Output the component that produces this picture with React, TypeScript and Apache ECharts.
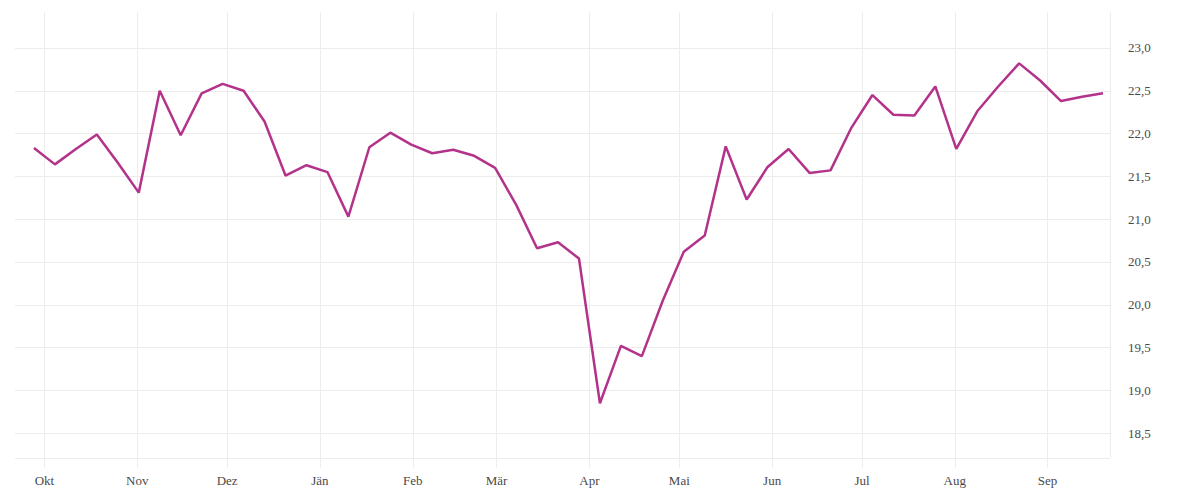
import React, { useRef, useEffect } from "react";
import * as echarts from "echarts";

// weekly readings, first week starts 27 Sep 2020
const weekStart = Date.UTC(2020, 8, 27, 12);
const weekValues = [
  21.83, 21.64, 21.82, 21.99, 21.66, 21.31, 22.5, 21.98, 22.47, 22.58,
  22.5, 22.14, 21.51, 21.63, 21.55, 21.03, 21.84, 22.01, 21.87, 21.77,
  21.81, 21.74, 21.6, 21.17, 20.66, 20.73, 20.54, 18.85, 19.52, 19.4,
  20.05, 20.62, 20.81, 21.85, 21.23, 21.61, 21.82, 21.54, 21.57, 22.07,
  22.45, 22.22, 22.21, 22.55, 21.82, 22.26, 22.55, 22.82, 22.62, 22.38,
  22.43, 22.47,
];
const monthNames = ["Jän", "Feb", "Mär", "Apr", "Mai", "Jun", "Jul", "Aug", "Sep", "Okt", "Nov", "Dez"];
const xMin = Date.UTC(2020, 8, 21, 4);
const xMax = Date.UTC(2021, 8, 21, 20);
const yMin = 18.21;
const yMax = 23.42;

const DAY = 86400000;
const seriesData = weekValues.map((v, i) => [weekStart + i * 7 * DAY, v]);

const gridColor = "#ececec";
const textColor = "#4a4a4a";
const font = "'Liberation Serif', serif";

const App = function () {
  const chart = useRef(null);
  useEffect(() => {
    document.body.style.margin = "0";
    if (!chart.current) return;
    let myChart = echarts.init(chart.current as any, undefined, { renderer: "svg" });
    let option = {
      animation: false,
      useUTC: true,
      backgroundColor: "#fff",
      grid: {
        left: 15,
        right: 90,
        top: 12,
        bottom: 42,
        containLabel: false,
      },
      xAxis: {
        type: "time",
        min: xMin,
        max: xMax,
        splitNumber: 12,
        axisLine: { show: false },
        axisTick: {
          show: true,
          length: 10,
          lineStyle: { color: gridColor, width: 1 },
        },
        splitLine: {
          show: true,
          showMinLine: false,
          lineStyle: { color: gridColor, width: 1 },
        },
        axisLabel: {
          color: textColor,
          fontFamily: font,
          fontSize: 13,
          margin: 16,
          showMinLabel: false,
          showMaxLabel: false,
          formatter: (value: number) => monthNames[new Date(value).getUTCMonth()],
        },
      },
      yAxis: {
        type: "value",
        position: "right",
        min: yMin,
        max: yMax,
        splitNumber: 10,
        axisLine: { show: false },
        axisTick: { show: false },
        splitLine: {
          show: true,
          showMaxLine: false,
          lineStyle: { color: gridColor, width: 1 },
        },
        axisLabel: {
          color: textColor,
          fontFamily: font,
          fontSize: 13,
          margin: 18,
          showMinLabel: false,
          showMaxLabel: false,
          formatter: (v: number) => v.toFixed(1).replace(".", ","),
        },
      },
      series: [
        {
          type: "line",
          data: seriesData,
          showSymbol: false,
          symbol: "none",
          lineStyle: { color: "#b3328a", width: 2.5 },
          itemStyle: { color: "#b3328a" },
        },
      ],
    };
    myChart.setOption(option);
    return () => {
      myChart.dispose();
    };
  }, []);
  return <div ref={chart} style={{ height: "500px", width: "1200px" }}></div>;
};
export default App;
